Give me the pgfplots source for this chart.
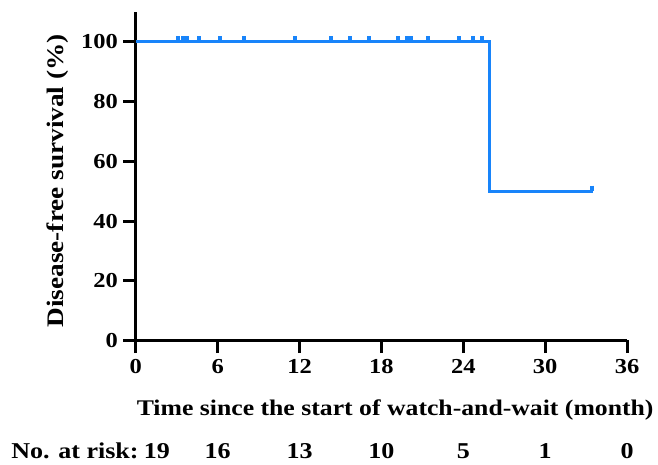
\documentclass[border=0pt]{standalone}
\usepackage{pgfplots}
\pgfplotsset{compat=1.18}
\usepackage{fontspec}
\setmainfont{Liberation Serif}[FakeStretch=1.15]
\definecolor{kmblue}{RGB}{24,132,250}
\begin{document}
\begin{tikzpicture}
\begin{axis}[
  name=ax,
  scale only axis,
  width=369pt, height=246.75pt,
  xmin=0, xmax=36, ymin=0, ymax=110,
  axis x line=bottom, axis y line=left,
  axis line style={-, line width=2.2pt},
  xtick={0,6,...,36}, ytick={0,20,...,100},
  tick align=outside,
  major tick length=9.5pt,
  tick style={line width=2.2pt, black},
  /pgf/number format/assume math mode=true,
  ticklabel style={font=\bfseries\fontsize{16}{19}\selectfont},
  xticklabel style={yshift=-1pt},
  yticklabel style={xshift=-0.5pt},
  xlabel={Time since the start of watch-and-wait (month)},
  ylabel={Disease-free survival (\%)},
  label style={font=\bfseries\fontsize{16.8}{20}\selectfont},
  xlabel style={at={(axis description cs:0.528,-0.2128)}, anchor=center},
  ylabel style={at={(axis description cs:-0.1585,0.486)}, anchor=center,
    font=\bfseries\fontsize{17.8}{21}\selectfont},
  clip=false,
]
\addplot[kmblue, line width=2.2pt, mark=none] coordinates {
  (0,100) (25.9,100) (25.9,50) (33.5,50)
};
\addplot[kmblue, only marks, mark=|, mark size=2.2pt,
  mark options={line width=3pt, yshift=2pt}] coordinates {
  (3.1,100) (3.45,100) (3.75,100) (4.6,100) (6.2,100) (7.9,100) (11.7,100)
  (14.3,100) (15.7,100) (17.1,100) (19.2,100) (19.9,100) (20.2,100)
  (21.4,100) (23.7,100) (24.7,100) (25.35,100) (33.45,50)
};
\begin{scope}[every node/.style={font=\bfseries\fontsize{17}{20}\selectfont}]
\node[anchor=east] at (axis cs:0.55,-37.1) {No. at risk:};
\node at (axis cs:1.55,-37.1) {19};
\node at (axis cs:6,-37.1) {16};
\node at (axis cs:12,-37.1) {13};
\node at (axis cs:18,-37.1) {10};
\node at (axis cs:24,-37.1) {5};
\node at (axis cs:30,-37.1) {1};
\node at (axis cs:36,-37.1) {0};
\end{scope}
\end{axis}
\path ([shift={(-102pt,-93pt)}]ax.south west) rectangle ([shift={(391.5pt,255.75pt)}]ax.south west);
\end{tikzpicture}
\end{document}
